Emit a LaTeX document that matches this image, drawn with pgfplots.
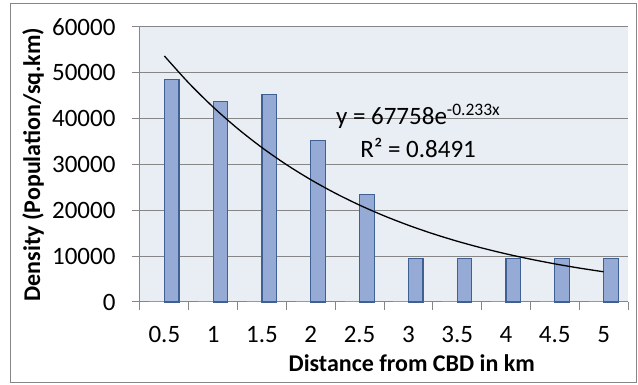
\documentclass[border=0pt]{standalone}
\usepackage{pgfplots}
\pgfplotsset{compat=1.18}
\usepackage{fontspec}
\setmainfont{Carlito}
\definecolor{plotbg}{RGB}{233,237,244}
\definecolor{barfill}{RGB}{149,170,212}
\definecolor{barline}{RGB}{62,96,146}
\definecolor{gridgray}{RGB}{134,134,134}
\definecolor{framegray}{RGB}{134,134,134}
\begin{document}
\begin{tikzpicture}[x=1pt,y=1pt]
\useasboundingbox (0,0) rectangle (638,385);
\draw[framegray,line width=1pt] (10.5,2.5) rectangle (636,381.5);
\begin{axis}[
  at={(140pt,83pt)}, anchor=south west,
  scale only axis, width=488pt, height=275pt,
  xmin=0.5, xmax=10.5, ymin=0, ymax=60000,
  scaled y ticks=false,
  axis background/.style={fill=plotbg},
  axis lines*=left,
  axis line style={gridgray, line width=1pt},
  ybar=0pt, bar width=14.6pt,
  xtick={0.5,1.5,...,10.5}, xticklabels={},
  extra x ticks={1,2,...,10},
  extra x tick labels={0.5,1,1.5,2,2.5,3,3.5,4,4.5,5},
  extra x tick style={major tick length=0pt, xmajorgrids=false},
  ytick={0,10000,...,60000},
  ymajorgrids=true, xmajorgrids=false,
  major grid style={draw=gridgray, line width=1pt},
  tick align=outside, major tick length=8pt,
  tick style={gridgray, line width=1pt},
  /pgf/number format/assume math mode=true,
  /pgf/number format/1000 sep={},
  ticklabel style={font=\fontsize{25}{30}\selectfont, text=black},
  xticklabel style={yshift=-21pt},
  yticklabel style={xshift=-13pt},
  xlabel={Distance from CBD in km},
  ylabel={Density (Population/sq.km)},
  xlabel style={font=\fontsize{24}{28}\bfseries, at={(axis description cs:0.557,-0.222)}, anchor=center},
  ylabel style={font=\fontsize{24}{28}\bfseries, at={(axis description cs:-0.219,0.5)}, anchor=center},
  clip=false,
]
\addplot[fill=barfill, draw=barfill!80!barline, line width=1pt] coordinates {
 (1,0.5) (2,1) (3,1.5) (4,2) (5,2.5) (6,3) (7,3.5) (8,4) (9,4.5) (10,5)};
\addplot[fill=barfill, draw=barline, line width=1.3pt] coordinates {
 (1,48500) (2,43800) (3,45200) (4,35300) (5,23500) (6,9500) (7,9500) (8,9500) (9,9500) (10,9500)};
\addplot[sharp plot, smooth, black, line width=1.3pt, mark=none, forget plot] coordinates {
 (1,53676) (1.5,47772) (2,42521) (2.5,37843) (3,33682) (3.5,29977) (4,26681) (4.5,23747) (5,21135)
 (5.5,18811) (6,16743) (6.5,14901) (7,13262) (7.5,11804) (8,10506) (8.5,9351) (9,8322) (9.5,7407) (10,6593)};
\node[font=\fontsize{25}{30}\selectfont, anchor=center] at (axis description cs:0.570,0.676) {y = 67758e\textsuperscript{-0.233x}};
\node[font=\fontsize{25}{30}\selectfont, anchor=center] at (axis description cs:0.570,0.560) {R² = 0.8491};
\end{axis}
\end{tikzpicture}
\end{document}
